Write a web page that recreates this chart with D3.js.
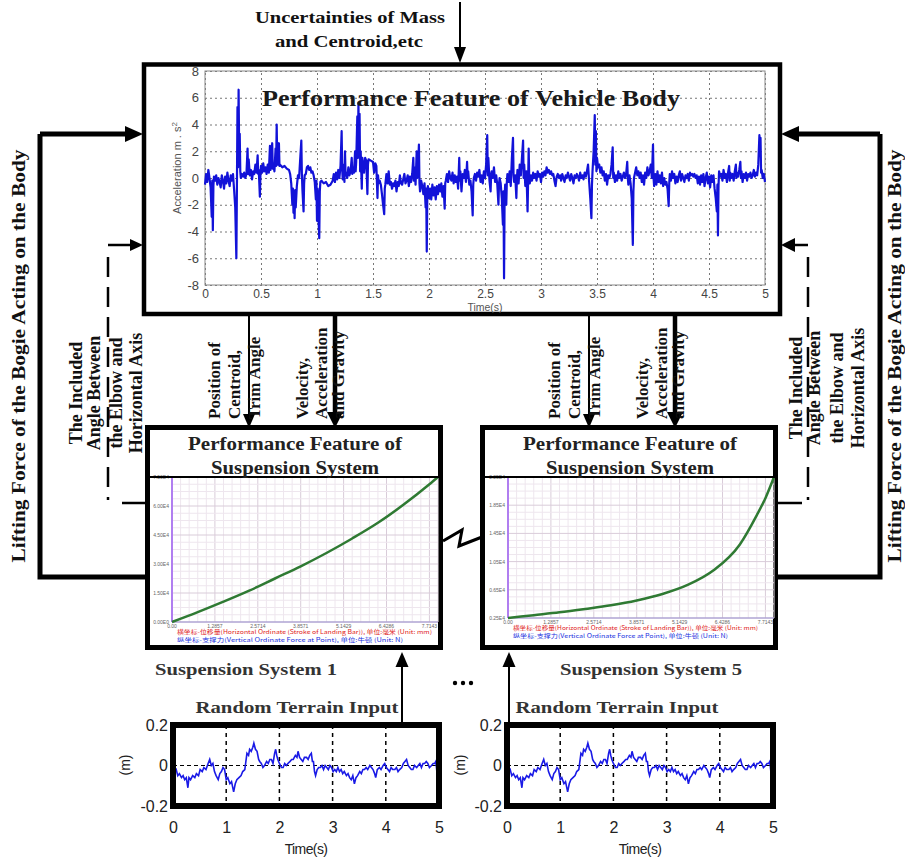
<!DOCTYPE html>
<html>
<head>
<meta charset="utf-8">
<script src="https://cdn.jsdelivr.net/npm/d3@7"></script>
<style>
body{margin:0;background:#fff}
svg{display:block}
</style>
</head>
<body>
<div id="chart"></div>
<script>
// vehicle body acceleration (t in s, m/s^2)
const bodyAccel = [
[0.00,-0.5],[0.01,0.3],[0.02,-0.3],[0.03,0.6],[0.04,0.0],[0.05,-0.7],[0.06,-2.9],[0.065,-0.2],[0.07,-3.9],[0.075,-0.6],
[0.08,0.1],[0.09,-0.2],[0.10,0.2],[0.11,-0.5],[0.12,0.0],[0.13,-0.3],[0.14,-0.7],[0.15,0.2],[0.16,-0.2],[0.17,-0.8],
[0.18,0.1],[0.19,-0.4],[0.20,0.4],[0.21,-0.2],[0.22,-0.6],[0.23,0.2],[0.24,-0.2],[0.25,0.3],[0.26,-0.9],[0.27,-2.2],
[0.28,-6.0],[0.285,-0.6],[0.29,5.3],[0.295,0.8],[0.30,6.6],[0.305,2.0],[0.31,3.3],[0.315,0.5],[0.32,0.0],[0.33,0.3],
[0.34,0.1],[0.35,0.4],[0.36,0.0],[0.37,0.3],[0.38,2.2],[0.385,0.3],[0.39,1.4],[0.40,0.2],[0.41,0.6],[0.42,-0.1],
[0.43,0.5],[0.44,0.3],[0.45,1.0],[0.46,0.4],[0.47,1.7],[0.475,0.3],[0.48,0.6],[0.49,-1.4],[0.495,0.3],[0.50,0.9],
[0.51,0.4],[0.52,1.1],[0.53,0.5],[0.54,0.8],[0.55,0.3],[0.56,1.0],[0.57,0.4],[0.58,2.4],[0.585,0.6],[0.59,1.2],
[0.60,2.6],[0.605,0.7],[0.61,1.1],[0.62,0.5],[0.63,2.2],[0.635,0.9],[0.64,4.0],[0.645,1.2],[0.65,1.0],[0.66,2.6],
[0.665,0.9],[0.67,1.0],[0.69,0.8],[0.71,0.9],[0.73,0.7],[0.75,0.6],[0.76,0.3],[0.77,-0.4],[0.78,-2.0],[0.785,-0.8],
[0.79,-2.6],[0.795,-1.0],[0.80,-3.0],[0.805,-0.9],[0.81,-2.2],[0.82,-0.6],[0.83,0.2],[0.84,0.0],[0.86,2.8],[0.865,0.3],
[0.87,-0.9],[0.88,-2.5],[0.885,-0.4],[0.89,0.2],[0.90,0.3],[0.91,0.8],[0.92,0.9],[0.93,0.6],[0.94,0.8],[0.95,0.4],
[0.96,0.5],[0.97,0.2],[0.98,-0.3],[0.99,-1.6],[0.995,-0.2],[1.00,-3.2],[1.005,-0.8],[1.01,-2.0],[1.02,-4.5],[1.025,-1.0],
[1.03,-0.3],[1.04,-0.2],[1.06,-0.4],[1.08,-0.3],[1.10,-0.6],[1.12,-0.5],[1.14,-0.2],[1.15,0.3],[1.16,-0.3],[1.17,0.4],
[1.18,-0.1],[1.19,0.6],[1.20,0.0],[1.21,0.9],[1.22,3.5],[1.225,0.6],[1.23,-0.1],[1.24,1.0],[1.245,-0.3],[1.25,2.0],
[1.255,0.2],[1.26,0.4],[1.27,0.0],[1.28,0.8],[1.29,0.2],[1.30,0.5],[1.31,1.5],[1.315,0.3],[1.32,0.8],[1.33,0.4],
[1.34,2.0],[1.345,0.5],[1.35,1.2],[1.36,4.6],[1.365,1.5],[1.37,5.6],[1.375,2.0],[1.38,4.8],[1.385,0.5],[1.39,2.0],
[1.40,-0.8],[1.405,1.5],[1.41,1.2],[1.42,0.4],[1.43,1.5],[1.44,1.3],[1.45,-1.2],[1.455,1.0],[1.46,1.4],[1.48,1.3],
[1.50,1.2],[1.51,0.4],[1.52,1.1],[1.53,0.9],[1.54,-1.5],[1.545,0.2],[1.55,-0.4],[1.56,-0.2],[1.57,-0.5],[1.58,-1.2],
[1.59,-2.0],[1.60,-2.7],[1.605,-0.8],[1.61,-0.5],[1.62,0.3],[1.63,-0.4],[1.64,0.5],[1.65,-0.5],[1.66,-0.3],[1.67,-0.8],
[1.68,-0.4],[1.69,-0.6],[1.70,-0.2],[1.71,-1.0],[1.72,-0.3],[1.73,-0.6],[1.74,0.2],[1.75,-0.4],[1.76,-0.5],[1.77,-0.1],
[1.78,0.3],[1.79,-0.4],[1.80,-0.2],[1.81,0.2],[1.82,-0.6],[1.83,0.1],[1.84,-0.3],[1.85,0.3],[1.86,1.5],[1.865,-0.2],
[1.87,0.8],[1.88,-0.5],[1.89,2.0],[1.895,0.0],[1.90,0.4],[1.91,2.5],[1.915,-0.4],[1.92,-1.0],[1.93,-0.2],[1.94,-0.6],
[1.95,-1.2],[1.96,-0.4],[1.97,-2.2],[1.975,-0.8],[1.98,-5.5],[1.985,-1.2],[1.99,-0.6],[2.00,-1.5],[2.01,-0.8],[2.02,-1.6],
[2.03,-0.5],[2.04,-1.3],[2.05,-0.7],[2.06,-1.6],[2.07,-0.6],[2.08,-1.2],[2.09,-0.5],[2.10,-1.0],[2.11,-0.4],[2.12,-1.4],
[2.13,-0.6],[2.14,-2.3],[2.145,-0.4],[2.15,-0.2],[2.16,0.3],[2.17,-0.3],[2.18,0.5],[2.19,0.0],[2.20,-0.2],[2.21,0.4],
[2.22,-0.4],[2.23,0.2],[2.24,-0.3],[2.25,0.1],[2.26,-0.8],[2.27,1.5],[2.275,-0.2],[2.28,0.5],[2.29,-1.0],[2.30,0.3],
[2.31,0.0],[2.32,0.6],[2.33,-0.3],[2.34,1.2],[2.345,0.0],[2.35,0.5],[2.36,-0.5],[2.37,-0.2],[2.38,-1.0],[2.39,-2.8],
[2.395,-0.5],[2.40,0.0],[2.41,0.3],[2.42,-0.2],[2.43,0.4],[2.44,0.1],[2.45,0.6],[2.46,-0.3],[2.47,0.2],[2.48,-0.4],
[2.49,0.5],[2.50,0.0],[2.51,1.0],[2.52,3.2],[2.525,0.2],[2.53,1.5],[2.54,-0.2],[2.55,-1.0],[2.555,0.3],[2.56,0.5],
[2.57,0.0],[2.58,0.8],[2.59,-0.3],[2.60,0.2],[2.61,-0.5],[2.62,-2.0],[2.625,-0.5],[2.63,0.0],[2.64,-0.4],[2.65,-1.5],
[2.66,-3.5],[2.665,-1.0],[2.67,-7.5],[2.675,-1.5],[2.68,-0.5],[2.69,-2.0],[2.695,-0.3],[2.70,0.3],[2.71,-0.3],[2.72,0.5],
[2.73,-0.6],[2.74,1.5],[2.75,3.0],[2.755,0.2],[2.76,-0.3],[2.77,0.2],[2.78,-1.5],[2.785,0.0],[2.79,0.6],[2.80,-0.4],
[2.81,1.0],[2.82,0.2],[2.83,1.5],[2.84,2.8],[2.845,0.0],[2.85,1.0],[2.86,-0.6],[2.87,0.5],[2.88,-2.5],[2.885,-0.2],
[2.89,2.2],[2.895,0.0],[2.90,-0.4],[2.91,0.2],[2.92,-0.2],[2.93,0.4],[2.94,0.0],[2.95,0.3],[2.96,-0.2],[2.97,0.5],
[2.98,0.1],[2.99,0.3],[3.00,-0.3],[3.01,0.4],[3.02,0.1],[3.03,0.5],[3.04,0.2],[3.05,0.8],[3.06,0.4],[3.07,0.6],
[3.08,0.3],[3.09,0.5],[3.10,0.2],[3.11,0.3],[3.12,-0.2],[3.13,-0.6],[3.14,0.1],[3.15,0.3],[3.16,0.0],[3.17,0.2],
[3.18,-0.2],[3.19,0.3],[3.20,0.0],[3.21,-0.3],[3.22,0.2],[3.23,0.0],[3.24,0.4],[3.25,0.1],[3.26,-0.2],[3.27,0.3],
[3.28,0.0],[3.29,-0.4],[3.30,0.2],[3.31,0.0],[3.32,0.3],[3.33,0.1],[3.34,-0.2],[3.35,0.4],[3.36,0.0],[3.37,0.2],
[3.38,-0.1],[3.39,0.4],[3.40,0.1],[3.41,0.5],[3.42,1.0],[3.43,-0.3],[3.44,-1.5],[3.45,-3.0],[3.455,-0.5],[3.46,0.5],
[3.47,2.0],[3.48,4.7],[3.485,1.0],[3.49,3.5],[3.495,0.5],[3.50,1.5],[3.51,0.8],[3.52,1.0],[3.53,0.4],[3.54,0.8],
[3.55,0.2],[3.56,0.5],[3.57,-0.2],[3.58,0.3],[3.59,-0.5],[3.60,0.2],[3.61,0.0],[3.62,0.3],[3.63,1.0],[3.64,2.3],
[3.645,0.0],[3.65,0.4],[3.66,-0.3],[3.67,0.2],[3.68,-0.2],[3.69,0.5],[3.70,0.0],[3.71,0.3],[3.72,-0.2],[3.73,0.1],
[3.74,0.4],[3.75,0.0],[3.76,0.3],[3.77,1.2],[3.775,0.0],[3.78,-0.5],[3.79,0.2],[3.80,-0.4],[3.81,-1.5],[3.82,-5.0],
[3.825,-1.0],[3.83,0.0],[3.84,0.4],[3.85,0.8],[3.86,0.2],[3.87,0.5],[3.88,0.0],[3.89,0.4],[3.90,-0.3],[3.91,0.2],
[3.92,-0.5],[3.93,0.4],[3.94,0.0],[3.95,0.8],[3.96,0.2],[3.97,0.5],[3.98,1.0],[3.99,0.0],[4.00,2.5],[4.005,0.0],
[4.01,-0.6],[4.02,0.3],[4.03,-0.5],[4.04,0.5],[4.05,-0.3],[4.06,0.2],[4.07,-0.4],[4.08,0.4],[4.09,-0.6],[4.10,0.0],
[4.11,-0.5],[4.12,-0.3],[4.13,-0.8],[4.14,-2.1],[4.145,-0.4],[4.15,0.3],[4.16,-0.2],[4.17,0.5],[4.18,0.0],[4.19,0.3],
[4.20,-0.4],[4.21,0.1],[4.22,-0.3],[4.23,0.2],[4.24,0.5],[4.25,-0.2],[4.26,0.3],[4.27,0.0],[4.28,-0.3],[4.29,0.2],
[4.30,0.0],[4.31,0.3],[4.32,-0.2],[4.33,0.4],[4.34,0.2],[4.35,0.3],[4.36,0.1],[4.37,0.3],[4.38,0.0],[4.39,0.2],
[4.40,-0.4],[4.41,0.1],[4.42,-0.5],[4.43,0.2],[4.44,-0.3],[4.45,0.3],[4.46,-0.6],[4.47,0.0],[4.48,0.4],[4.49,-0.4],
[4.50,0.1],[4.51,-0.7],[4.52,0.2],[4.53,-0.3],[4.54,0.2],[4.55,-0.8],[4.56,-1.5],[4.57,-2.5],[4.575,-0.5],[4.58,-4.3],
[4.585,-0.6],[4.59,0.5],[4.60,0.1],[4.61,0.3],[4.62,-0.2],[4.63,0.6],[4.64,0.0],[4.65,0.3],[4.66,-0.3],[4.67,0.4],
[4.68,0.9],[4.685,-0.2],[4.69,0.4],[4.70,0.0],[4.71,0.3],[4.72,-0.2],[4.73,0.5],[4.74,1.0],[4.745,0.0],[4.75,0.4],
[4.76,0.1],[4.77,0.6],[4.78,1.2],[4.785,0.0],[4.79,0.5],[4.80,-0.3],[4.81,0.3],[4.82,0.0],[4.83,0.4],[4.84,-0.2],
[4.85,0.3],[4.86,0.1],[4.87,0.4],[4.88,0.0],[4.89,0.2],[4.90,0.6],[4.91,0.1],[4.92,0.4],[4.93,0.2],[4.94,1.0],
[4.95,3.2],[4.955,2.0],[4.96,3.0],[4.965,0.4],[4.97,0.6],[4.98,0.0],[4.99,0.3],[5.00,-0.3]
]
const accelXTicks = [0,0.5,1,1.5,2,2.5,3,3.5,4,4.5,5]
const accelYTicks = [-8,-6,-4,-2,0,2,4,6,8]

// random terrain input (t in s, height in m)
const terrainInput = [
[0.00,-0.01],[0.03,-0.03],[0.06,-0.02],[0.09,-0.05],[0.12,-0.04],[0.16,-0.06],[0.19,-0.05],[0.22,-0.07],[0.25,-0.06],[0.28,-0.11],
[0.30,-0.06],[0.33,-0.07],[0.37,-0.05],[0.41,-0.06],[0.44,-0.04],[0.48,-0.05],[0.51,-0.02],[0.55,-0.03],[0.58,-0.01],[0.62,-0.02],
[0.66,0.01],[0.69,0.03],[0.72,0.00],[0.75,0.01],[0.78,-0.03],[0.81,-0.05],[0.85,-0.07],[0.88,-0.04],[0.91,-0.03],[0.94,-0.01],
[0.97,-0.02],[1.00,-0.07],[1.03,-0.06],[1.07,-0.09],[1.10,-0.08],[1.14,-0.13],[1.17,-0.09],[1.20,-0.07],[1.24,-0.06],[1.28,-0.05],
[1.31,-0.03],[1.35,-0.02],[1.37,0.02],[1.39,0.06],[1.42,0.05],[1.44,0.08],[1.47,0.07],[1.50,0.09],[1.52,0.11],[1.55,0.08],
[1.58,0.07],[1.61,0.03],[1.63,0.02],[1.66,0.01],[1.69,-0.01],[1.72,0.00],[1.76,0.02],[1.79,0.01],[1.82,0.03],[1.85,0.03],
[1.88,0.01],[1.91,0.06],[1.93,0.08],[1.95,0.05],[1.97,0.03],[2.00,0.01],[2.04,-0.01],[2.07,-0.01],[2.10,0.01],[2.13,0.00],
[2.16,0.01],[2.20,0.02],[2.23,0.03],[2.26,0.03],[2.30,0.05],[2.33,0.04],[2.35,0.07],[2.38,0.04],[2.41,0.03],[2.44,0.02],
[2.47,0.04],[2.51,0.04],[2.54,0.03],[2.57,0.05],[2.60,0.06],[2.62,0.02],[2.64,0.02],[2.66,-0.03],[2.68,-0.05],[2.71,-0.02],
[2.74,-0.01],[2.77,-0.01],[2.80,0.00],[2.83,-0.02],[2.86,0.00],[2.89,-0.01],[2.92,-0.02],[2.95,0.00],[2.98,-0.01],[3.01,-0.03],
[3.04,-0.02],[3.07,-0.03],[3.10,-0.01],[3.13,-0.03],[3.16,-0.02],[3.19,-0.04],[3.22,-0.03],[3.26,-0.05],[3.29,-0.04],[3.32,-0.06],
[3.35,-0.07],[3.38,-0.05],[3.41,-0.09],[3.44,-0.06],[3.47,-0.05],[3.51,-0.03],[3.54,-0.04],[3.57,-0.02],[3.60,-0.02],[3.63,-0.01],
[3.66,-0.02],[3.70,0.00],[3.73,-0.01],[3.76,-0.02],[3.79,-0.04],[3.81,-0.06],[3.84,-0.02],[3.88,-0.01],[3.91,-0.02],[3.95,0.00],
[3.98,0.01],[4.01,-0.01],[4.04,-0.02],[4.07,-0.03],[4.10,-0.01],[4.13,-0.02],[4.17,-0.02],[4.20,-0.01],[4.23,-0.03],[4.26,-0.02],
[4.30,-0.01],[4.33,0.01],[4.36,0.02],[4.39,0.03],[4.42,0.00],[4.45,-0.01],[4.48,-0.02],[4.51,-0.02],[4.54,0.00],[4.58,-0.01],
[4.61,0.00],[4.64,0.01],[4.67,-0.01],[4.70,0.01],[4.73,0.01],[4.76,0.02],[4.79,0.01],[4.82,-0.01],[4.86,0.00],[4.89,0.01],
[4.92,0.01],[4.94,0.02],[4.96,-0.03],[4.98,0.00],[5.00,0.00]
]
const terrainXTicks = [0,1,2,3,4,5]
const terrainYTicks = [-0.2,0,0.2]

// suspension characteristic curves (x: stroke, y: force, plot units)
const susp1Curve = [[0,0],[0.6,0.34],[1.2,0.70],[1.8,1.08],[2.4,1.50],[3.0,1.92],[3.6,2.38],[4.2,2.88],[4.8,3.42],[5.4,4.05],[6.0,4.75],[6.2,5.0]]
const susp5Curve = [[0,0],[0.6,0.10],[1.2,0.20],[1.8,0.32],[2.4,0.45],[3.0,0.62],[3.6,0.85],[4.2,1.18],[4.8,1.70],[5.4,2.60],[5.8,3.65],[6.0,4.25],[6.2,5.0]]
const suspXTickLabels = ['0.00','1.2857','2.5714','3.8571','5.1429','6.4286','7.7143']
const susp1YTickLabels = ['0.00E0','1.50E4','3.00E4','4.50E4','6.00E4','7.50E4']
const susp5YTickLabels = ['0.25E4','0.65E4','1.05E4','1.45E4','1.85E4','2.25E4']

const W = 905, H = 859
const serif = '"Liberation Serif","Times New Roman",serif'
const sans = '"Liberation Sans",Arial,sans-serif'

const svg = d3.select('#chart').append('svg')
    .attr('width', W)
    .attr('height', H)
    .style('background', '#fff')

function arrow(x1, y1, x2, y2, sw, hl, hw){
    const dx = x2-x1, dy = y2-y1, L = Math.hypot(dx,dy), ux = dx/L, uy = dy/L
    const bx = x2-ux*hl, by = y2-uy*hl
    svg.append('line')
        .attr('x1',x1).attr('y1',y1).attr('x2',bx+ux*2).attr('y2',by+uy*2)
        .attr('stroke','#000').attr('stroke-width',sw)
    svg.append('path')
        .attr('d',`M${x2},${y2}L${bx-uy*hw},${by+ux*hw}L${bx+uy*hw},${by-ux*hw}Z`)
        .attr('fill','#000')
}

function vtext(x, y, str, size, anchor, len){
    const t = svg.append('text')
        .attr('transform',`translate(${x},${y}) rotate(-90)`)
        .attr('text-anchor',anchor)
        .attr('font-family',serif)
        .attr('font-weight','bold')
        .attr('font-size',size)
        .attr('fill','#111')
        .text(str)
    if (len) t.attr('textLength',len).attr('lengthAdjust','spacingAndGlyphs')
    return t
}

function htext(x, y, str, size, anchor, len, fill){
    const t = svg.append('text')
        .attr('x',x).attr('y',y)
        .attr('text-anchor',anchor)
        .attr('font-family',serif)
        .attr('font-weight','bold')
        .attr('font-size',size)
        .attr('fill',fill || '#111')
        .text(str)
    if (len) t.attr('textLength',len).attr('lengthAdjust','spacingAndGlyphs')
    return t
}

// ---------- top: vehicle body ----------
svg.append('rect').attr('x',144).attr('y',64.5).attr('width',636).attr('height',249.5)
    .attr('fill','#fff').attr('stroke','#000').attr('stroke-width',4.5)

const ax = d3.scaleLinear().domain([0,5]).range([205,765])
const ay = d3.scaleLinear().domain([-8,8]).range([285,71])

const gx = svg.append('g').attr('transform','translate(0,285)')
    .call(d3.axisBottom(ax).tickValues(accelXTicks).tickSize(-214).tickPadding(4).tickFormat(d=>String(d)))
const gy = svg.append('g').attr('transform','translate(205,0)')
    .call(d3.axisLeft(ay).tickValues(accelYTicks).tickSize(-560).tickPadding(6).tickFormat(d=>String(d)))
;[gx,gy].forEach(g=>{
    g.select('.domain').remove()
    g.selectAll('line').attr('stroke','#777').attr('stroke-dasharray','2,3').attr('stroke-width',1)
    g.selectAll('text').attr('font-family',sans).attr('font-size',13).attr('fill','#444')
})
gx.selectAll('text').attr('font-size',12)
svg.append('rect').attr('x',205).attr('y',71).attr('width',560).attr('height',214)
    .attr('fill','none').attr('stroke','#888').attr('stroke-width',1)

svg.append('path')
    .datum(bodyAccel)
    .attr('d', d3.line().x(d=>ax(d[0])).y(d=>ay(d[1])))
    .attr('fill','none')
    .attr('stroke','#1212d8')
    .attr('stroke-width',2.2)
    .attr('stroke-linejoin','round')

htext(262, 106, 'Performance Feature of Vehicle Body', 23, 'start', 418, '#1a1a1a')

svg.append('text').attr('x',485).attr('y',310.5).attr('text-anchor','middle')
    .attr('font-family',sans).attr('font-size',10.5).attr('fill','#555').text('Time(s)')
const yl = svg.append('text')
    .attr('transform','translate(181,168) rotate(-90)')
    .attr('text-anchor','middle').attr('font-family',sans).attr('font-size',11).attr('fill','#555')
yl.append('tspan').text('Acceleration m . s')
yl.append('tspan').attr('dy',-4).attr('font-size',8).text('2')

// top input
htext(350, 23, 'Uncertainties of Mass', 17, 'middle', 190)
htext(349, 47, 'and Centroid,etc', 17, 'middle', 148)
arrow(460, 2, 460, 63, 2, 16, 6)

// ---------- side loops ----------
svg.append('path').attr('d','M148,577H40V134').attr('fill','none').attr('stroke','#000').attr('stroke-width',5)
arrow(40, 134, 143, 134, 5, 18, 8)
svg.append('path').attr('d','M777,577H880V134').attr('fill','none').attr('stroke','#000').attr('stroke-width',5)
arrow(880, 134, 781, 134, 5, 18, 8)

svg.append('path').attr('d','M108,257V500').attr('stroke','#000').attr('stroke-width',2.5).attr('stroke-dasharray','20,10')
arrow(108, 245, 143, 245, 2.5, 13, 6)
svg.append('line').attr('x1',122).attr('y1',503).attr('x2',148).attr('y2',503).attr('stroke','#000').attr('stroke-width',2.5)
svg.append('path').attr('d','M808,257V500').attr('stroke','#000').attr('stroke-width',2.5).attr('stroke-dasharray','20,10')
arrow(808, 245, 781, 245, 2.5, 14, 7)
svg.append('line').attr('x1',777).attr('y1',503).attr('x2',802).attr('y2',503).attr('stroke','#000').attr('stroke-width',2.5)

vtext(25, 356, 'Lifting Force of the Bogie Acting on the Body', 19, 'middle', 413)
vtext(901, 356, 'Lifting Force of the Bogie Acting on the Body', 19, 'middle', 413)

const angleLines = ['The Included','Angle Between','the Elbow and','Horizontal Axis']
const angleLeftX = [82, 100, 122, 142]
const angleRightX = [802, 820, 843, 864]
angleLines.forEach((s,i)=>{
    vtext(angleLeftX[i], 393, s, 18, 'middle')
    vtext(angleRightX[i], 388, s, 18, 'middle')
})

// ---------- middle arrows and labels ----------
const midLines = ['Position of','Centroid,','Trim Angle','Velocity,','Acceleration','and Gravity']
const midX = [220, 240, 260, 308, 327, 344]
;[0, 340].forEach(off=>{
    arrow(249+off, 316, 249+off, 428, 2, 14, 6)
    arrow(335+off, 316, 335+off, 428, 4.5, 16, 8)
    midLines.forEach((s,i)=> vtext(midX[i]+off, 419, s, 17, 'start'))
})

// ---------- suspension boxes ----------
function drawSusp(cfg){
    svg.append('rect').attr('x',cfg.bx).attr('y',427.5).attr('width',293).attr('height',220)
        .attr('fill','#fff').attr('stroke','#000').attr('stroke-width',5)
    const sx = d3.scaleLinear().domain([0,6.2]).range([cfg.l, cfg.r])
    const sy = d3.scaleLinear().domain([0,5]).range([cfg.b, 477])
    const g = svg.append('g')
    g.selectAll('.mx').data(d3.range(0,6.21,0.2)).join('line')
        .attr('x1',d=>sx(d)).attr('x2',d=>sx(d)).attr('y1',477).attr('y2',cfg.b)
        .attr('stroke',(d)=>Math.abs(d-Math.round(d))<0.01?'#d9ccd9':'#eee6ee').attr('stroke-width',1)
    g.selectAll('.my').data(d3.range(0,5.01,0.25)).join('line')
        .attr('y1',d=>sy(d)).attr('y2',d=>sy(d)).attr('x1',cfg.l).attr('x2',cfg.r)
        .attr('stroke',(d)=>Math.abs(d-Math.round(d))<0.01?'#d9ccd9':'#eee6ee').attr('stroke-width',1)
    g.append('line').attr('x1',cfg.l).attr('x2',cfg.l).attr('y1',477).attr('y2',cfg.b)
        .attr('stroke','#b07ef0').attr('stroke-width',2)
    g.append('line').attr('x1',cfg.l).attr('x2',cfg.r).attr('y1',cfg.b).attr('y2',cfg.b)
        .attr('stroke','#9a90d0').attr('stroke-width',1)
    g.append('path').datum(cfg.curve)
        .attr('d', d3.line().x(d=>sx(d[0])).y(d=>sy(d[1])).curve(d3.curveMonotoneX))
        .attr('fill','none').attr('stroke','#2f7a33').attr('stroke-width',2.5)
    g.selectAll('.xl').data(suspXTickLabels).join('text')
        .attr('x',(d,i)=>sx(i)).attr('y',cfg.b+6).attr('text-anchor','middle')
        .attr('font-family',sans).attr('font-size',5).attr('fill','#666').text(d=>d)
    g.selectAll('.yl').data(cfg.yLabels).join('text')
        .attr('x',cfg.l-3).attr('y',(d,i)=>sy(i)+2).attr('text-anchor','end')
        .attr('font-family',sans).attr('font-size',5).attr('fill','#666').text(d=>d)
    svg.append('line').attr('x1',cfg.bx).attr('x2',cfg.bx+293).attr('y1',477).attr('y2',477)
        .attr('stroke','#000').attr('stroke-width',2)
    htext(cfg.cx, 450, 'Performance Feature of', 18, 'middle', 214, '#222')
    htext(cfg.cx, 474, 'Suspension System', 18, 'middle', 168, '#222')
    svg.append('text').attr('x',cfg.l+5).attr('y',cfg.b+12).attr('font-family','"Noto Sans CJK SC",sans-serif')
        .attr('font-size',5.5).attr('fill','#e02020').attr('textLength',cfg.redLen).attr('lengthAdjust','spacingAndGlyphs')
        .text('横坐标-位移量(Horizontal Ordinate (Stroke of Landing Bar)), 单位:毫米 (Unit: mm)')
    svg.append('text').attr('x',cfg.l+5).attr('y',cfg.b+20).attr('font-family','"Noto Sans CJK SC",sans-serif')
        .attr('font-size',5.5).attr('fill','#2030e0').attr('textLength',cfg.blueLen).attr('lengthAdjust','spacingAndGlyphs')
        .text('纵坐标-支撑力(Vertical Ordinate Force at Point), 单位:牛顿 (Unit: N)')
}
drawSusp({bx:147.5, l:172, r:438, b:622, cx:295, curve:susp1Curve, yLabels:susp1YTickLabels, redLen:255, blueLen:226})
drawSusp({bx:482.5, l:508, r:774, b:618, cx:630, curve:susp5Curve, yLabels:susp5YTickLabels, redLen:245, blueLen:215})

svg.append('path').attr('d','M443,541L462,530L459,546L482,537').attr('fill','none')
    .attr('stroke','#000').attr('stroke-width',3).attr('stroke-linejoin','miter')

htext(155, 675, 'Suspension System 1', 17, 'start', 182, '#333')
htext(560, 675, 'Suspension System 5', 17, 'start', 182, '#333')
svg.selectAll('.dot').data([455,463,471]).join('circle')
    .attr('cx',d=>d).attr('cy',683).attr('r',2.2).attr('fill','#000')

// ---------- terrain inputs ----------
function drawTerrain(x0, cx, ylabX){
    const tx = d3.scaleLinear().domain([0,5]).range([x0, x0+266])
    const ty = d3.scaleLinear().domain([-0.2,0.2]).range([806,725])
    svg.append('rect').attr('x',x0).attr('y',725).attr('width',266).attr('height',81).attr('fill','#fff')
    svg.selectAll(null).data([1,2,3,4]).join('line')
        .attr('x1',d=>tx(d)).attr('x2',d=>tx(d)).attr('y1',725).attr('y2',806)
        .attr('stroke','#000').attr('stroke-width',1.5).attr('stroke-dasharray','4,4')
    svg.append('line').attr('x1',x0).attr('x2',x0+266).attr('y1',ty(0)).attr('y2',ty(0))
        .attr('stroke','#000').attr('stroke-width',1).attr('stroke-dasharray','4,3')
    svg.append('path').datum(terrainInput)
        .attr('d', d3.line().x(d=>tx(d[0])).y(d=>ty(d[1])))
        .attr('fill','none').attr('stroke','#1a1ae6').attr('stroke-width',1.6)
    svg.append('rect').attr('x',x0).attr('y',725).attr('width',266).attr('height',81)
        .attr('fill','none').attr('stroke','#000').attr('stroke-width',6)
    const bx = svg.append('g').attr('transform','translate(0,806)')
        .call(d3.axisBottom(tx).tickValues(terrainXTicks).tickSize(0).tickPadding(16).tickFormat(d=>String(d)))
    const by = svg.append('g').attr('transform',`translate(${x0},0)`)
        .call(d3.axisLeft(ty).tickValues(terrainYTicks).tickSize(0).tickPadding(5).tickFormat(d=>d===0?'0':String(d)))
    ;[bx,by].forEach(g=>{
        g.select('.domain').remove()
        g.selectAll('text').attr('font-family',sans).attr('font-size',16).attr('fill','#222')
    })
    svg.append('text').attr('x',x0+133).attr('y',854).attr('text-anchor','middle')
        .attr('font-family',sans).attr('font-size',14).attr('letter-spacing',-0.6).attr('fill','#222').text('Time(s)')
    svg.append('text').attr('transform',`translate(${ylabX},765) rotate(-90)`).attr('text-anchor','middle')
        .attr('font-family',sans).attr('font-size',14).attr('fill','#222').text('(m)')
    htext(cx, 713, 'Random Terrain Input', 17, 'middle', 203, '#333')
}
drawTerrain(173, 297, 130)
drawTerrain(507, 617, 465)

arrow(402, 722, 402, 652, 2, 15, 6.5)
arrow(509, 722, 509, 652, 2, 15, 6.5)
</script>
</body>
</html>
